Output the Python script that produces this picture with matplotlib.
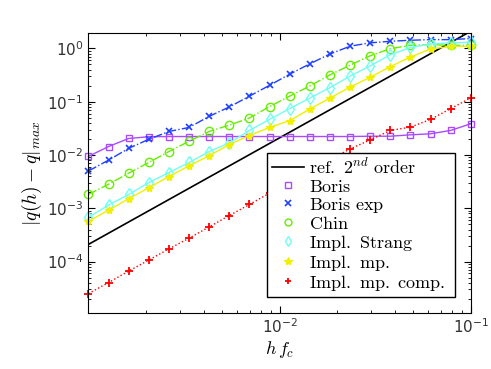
import numpy as np
import matplotlib
matplotlib.use("Agg")
import matplotlib.pyplot as plt
from matplotlib.lines import Line2D

plt.rcParams['mathtext.fontset'] = 'cm'

# paso normalizado h*f_c (20 puntos log-espaciados)
h = np.logspace(-3, -1, 20)

err_boris = [9.4e-3, 1.44e-2, 2.04e-2, 2.2e-2, 2.22e-2, 2.22e-2, 2.22e-2, 2.22e-2, 2.22e-2, 2.22e-2,
             2.22e-2, 2.22e-2, 2.22e-2, 2.22e-2, 2.25e-2, 2.25e-2, 2.39e-2, 2.5e-2, 2.89e-2, 3.86e-2]
err_boris_exp = [5.0e-3, 8.0e-3, 1.33e-2, 1.97e-2, 2.76e-2, 3.29e-2, 5.3e-2, 7.97e-2, 0.127, 0.203,
                 0.328, 0.513, 0.783, 1.1, 1.27, 1.36, 1.42, 1.46, 1.46, 1.53]
err_chin = [1.82e-3, 2.82e-3, 4.56e-3, 7.24e-3, 1.16e-2, 1.81e-2, 2.76e-2, 3.64e-2, 4.93e-2, 8.1e-2,
            0.127, 0.197, 0.318, 0.485, 0.727, 0.987, 1.14, 1.18, 1.14, 1.14]
err_strang = [6.78e-4, 1.15e-3, 1.82e-3, 3.03e-3, 4.68e-3, 7.24e-3, 1.16e-2, 1.69e-2, 2.89e-2, 4.66e-2,
              7.43e-2, 0.117, 0.184, 0.301, 0.47, 0.76, 1.04, 1.21, 1.27, 1.3]
err_mp = [5.7e-4, 9.2e-4, 1.51e-3, 2.43e-3, 3.93e-3, 6.27e-3, 9.7e-3, 1.57e-2, 2.32e-2, 3.29e-2,
          4.41e-2, 7.28e-2, 0.117, 0.188, 0.287, 0.456, 0.687, 0.975, 1.09, 1.09]
err_mp_comp = [2.5e-5, 4.04e-5, 6.64e-5, 1.07e-4, 1.73e-4, 2.75e-4, 4.48e-4, 7.31e-4, 1.18e-3, 1.93e-3,
               3.12e-3, 5.04e-3, 8.15e-3, 1.3e-2, 1.92e-2, 2.89e-2, 3.33e-2, 4.66e-2, 7.43e-2, 0.118]
ref_coef = 210.0  # referencia de 2do orden: C*h^2

c_boris = '#a94bff'
c_bexp = '#2040ff'
c_chin = '#66ee00'
c_strang = '#70fff0'
c_mp = '#f0f000'
c_comp = '#ff0000'

fig = plt.figure(figsize=(4.91, 3.69), dpi=100)
ax = fig.add_axes([0.18, 0.1526, 0.779, 0.7572])

ax.loglog(h, ref_coef * h**2, color='k', lw=1.2)
ax.loglog(h, err_boris, '-s', color=c_boris, ms=5, mfc='none', lw=1, clip_on=False)
ax.loglog(h, err_boris_exp, '-.x', color=c_bexp, ms=5, mew=1.2, lw=1, clip_on=False)
ax.loglog(h, err_chin, '-.o', color=c_chin, ms=6, mfc='none', lw=1, clip_on=False)
ax.loglog(h, err_strang, '-d', color=c_strang, ms=6, mfc='none', lw=1, clip_on=False)
ax.loglog(h, err_mp, '-*', color=c_mp, ms=6, lw=1, clip_on=False)
ax.loglog(h, err_mp_comp, ':+', color=c_comp, ms=6, mew=1.3, lw=1, clip_on=False)

ax.set_xlim(1.0e-3, 1e-1)
ax.set_ylim(1.1e-5, 1.92)
ax.set_xticks([1e-2, 1e-1])
ax.set_yticks([1e-4, 1e-3, 1e-2, 1e-1, 1e0])
ax.tick_params(which='both', direction='in', top=True, right=True, labelsize=11,
               labelcolor='#333333')
ax.tick_params(which='major', length=5)
ax.tick_params(which='minor', length=2.5)
ax.xaxis.set_minor_locator(matplotlib.ticker.LogLocator(base=10, subs=np.arange(2, 10)))
ax.xaxis.set_minor_formatter(matplotlib.ticker.NullFormatter())
ax.yaxis.set_minor_formatter(matplotlib.ticker.NullFormatter())

ax.set_xlabel(r'$h\,f_c$', fontsize=13, labelpad=2)
ax.set_ylabel(r'$|q(h)-q|_{max}$', fontsize=14, labelpad=2)

handles = [
    Line2D([], [], color='k', lw=1.2),
    Line2D([], [], ls='none', marker='s', color=c_boris, mfc='none', ms=4),
    Line2D([], [], ls='none', marker='x', color=c_bexp, ms=4, mew=1.2),
    Line2D([], [], ls='none', marker='o', color=c_chin, mfc='none', ms=5),
    Line2D([], [], ls='none', marker='d', color=c_strang, mfc='none', ms=5),
    Line2D([], [], ls='none', marker='*', color=c_mp, ms=6),
    Line2D([], [], ls='none', marker='+', color=c_comp, ms=5, mew=1.3),
]
labels = [r'$\mathrm{ref.\ 2}^{nd}\mathrm{\ order}$', r'$\mathrm{Boris}$', r'$\mathrm{Boris\ exp}$',
          r'$\mathrm{Chin}$', r'$\mathrm{Impl.\ Strang}$', r'$\mathrm{Impl.\ mp.}$',
          r'$\mathrm{Impl.\ mp.\ comp.}$']
leg = ax.legend(handles, labels, loc='lower left', bbox_to_anchor=(0.467, 0.056, 0.491, 0.519),
                mode='expand', fontsize=13, frameon=True, fancybox=False, framealpha=1,
                edgecolor='k', handlelength=1.8, handletextpad=0.3, borderpad=0.25,
                labelspacing=0.0, borderaxespad=0)
leg.get_frame().set_linewidth(1)

fig.savefig('out.png', dpi=100)
